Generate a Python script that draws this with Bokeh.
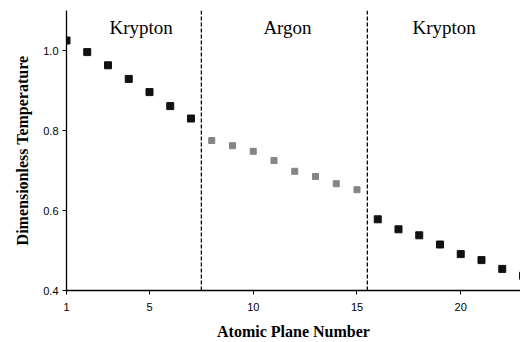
from bokeh.plotting import figure
from bokeh.models import Range1d, FixedTicker, NumeralTickFormatter, Span, Label, ColumnDataSource
from bokeh.embed import file_html
from bokeh.resources import INLINE

# Data
plane_kr1 = [1, 2, 3, 4, 5, 6, 7]
temp_kr1 = [1.025, 0.996, 0.963, 0.929, 0.896, 0.861, 0.830]
plane_ar = [8, 9, 10, 11, 12, 13, 14, 15]
temp_ar = [0.775, 0.762, 0.748, 0.725, 0.698, 0.685, 0.667, 0.652]
plane_kr2 = [16, 17, 18, 19, 20, 21, 22, 23]
temp_kr2 = [0.578, 0.553, 0.538, 0.515, 0.491, 0.476, 0.454, 0.437]
x_ticks = [1, 5, 10, 15, 20]
y_ticks = [0.4, 0.6, 0.8, 1.0]
boundaries = [7.5, 15.5]
region_names = ["Krypton", "Argon", "Krypton"]
region_x = [4.6, 11.65, 19.2]
region_y = 1.057
x_title = "Atomic Plane Number"
y_title = "Dimensionless Temperature"

p = figure(width=520, height=342, output_backend="svg", toolbar_location=None,
           x_range=Range1d(1, 22.88), y_range=Range1d(0.4, 1.1),
           min_border_left=66, min_border_right=0, min_border_top=10, min_border_bottom=51)
p.outline_line_color = None
p.xgrid.visible = False
p.ygrid.visible = False
p.background_fill_color = "white"
p.border_fill_color = "white"

src_k1 = ColumnDataSource(dict(x=plane_kr1, y=temp_kr1))
src_a = ColumnDataSource(dict(x=plane_ar, y=temp_ar))
src_k2 = ColumnDataSource(dict(x=plane_kr2, y=temp_kr2))
p.scatter("x", "y", source=src_k1, marker="square", size=7, fill_color="#111111", line_color="#111111")
p.scatter("x", "y", source=src_a, marker="square", size=6, fill_color="#858585", line_color="#858585")
p.scatter("x", "y", source=src_k2, marker="square", size=7, fill_color="#111111", line_color="#111111")

for b in boundaries:
    p.add_layout(Span(location=b, dimension="height", line_color="black",
                      line_dash="4 2", line_width=1.3))

for name, xx in zip(region_names, region_x):
    p.add_layout(Label(x=xx, y=region_y, text=name, text_align="center", text_baseline="middle",
                       text_font="Liberation Serif", text_font_size="19px", text_color="black"))

for ax in (p.xaxis[0], p.yaxis[0]):
    ax.axis_line_color = "black"
    ax.axis_line_width = 1.3
    ax.major_tick_line_color = "black"
    ax.major_tick_out = 4
    ax.major_tick_in = 0
    ax.minor_tick_line_color = None
    ax.major_label_text_font = "Liberation Sans"
    ax.major_label_text_font_size = "11px"
    ax.major_label_text_color = "black"
    ax.axis_label_text_font = "Liberation Serif"
    ax.axis_label_text_font_style = "bold"
    ax.axis_label_text_font_size = "16px"
    ax.axis_label_text_color = "black"

p.xaxis.ticker = FixedTicker(ticks=x_ticks)
p.yaxis.ticker = FixedTicker(ticks=y_ticks)
p.yaxis.formatter = NumeralTickFormatter(format="0.0")
p.xaxis.axis_label = x_title
p.yaxis.axis_label = y_title
p.xaxis.major_label_standoff = 8
p.xaxis.axis_label_standoff = 9
p.yaxis.major_label_standoff = 4
p.yaxis.axis_label_standoff = 9

open("out.html", "w").write(file_html(p, INLINE))
